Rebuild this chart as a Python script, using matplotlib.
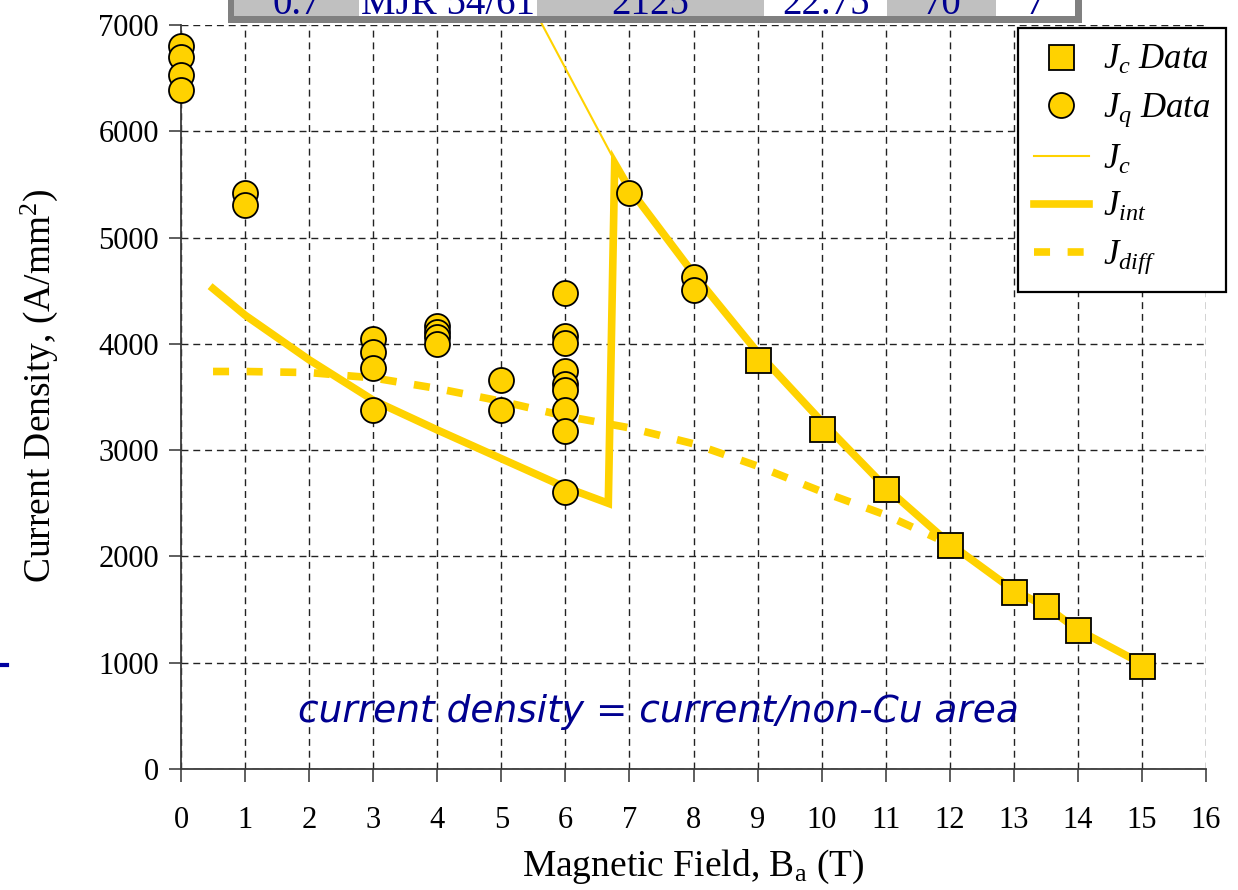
import matplotlib
matplotlib.use('Agg')
from matplotlib import pyplot as plt
from matplotlib import patches
from matplotlib.lines import Line2D

W, H = 1238, 890
GOLD = '#FFD200'
NAVY = '#000090'

# quench current densities (circles)
jq_field = [0, 0, 0, 0, 1, 1, 3, 3, 3, 3, 4, 4, 4, 4, 5, 5,
            6, 6, 6, 6, 6, 6, 6, 6, 6, 7, 8, 8]
jq_density = [6800, 6700, 6530, 6390, 5420, 5310, 4050, 3920, 3770, 3380,
              4170, 4110, 4060, 4000, 3660, 3380,
              4480, 4070, 4010, 3740, 3620, 3570, 3380, 3180, 2610,
              5420, 4630, 4510]

# short sample critical current densities (squares)
jc_field = [9, 10, 11, 12, 13, 13.5, 14, 15]
jc_density = [3850, 3200, 2630, 2110, 1670, 1530, 1310, 970]

# Jc fit line
jc_line_field = [5.35, 7, 8, 9, 10, 11, 12, 13, 13.5, 14, 15]
jc_line_density = [7330, 5460, 4660, 3920, 3270, 2650, 2120, 1680, 1530, 1310, 990]

# integral stability limit
jint_field = [0.5, 1, 2, 3, 4, 5, 6, 6.67, 6.77, 7, 8, 9, 10, 11, 12, 13, 13.5, 14, 15]
jint_density = [4520, 4270, 3850, 3470, 3190, 2920, 2650, 2500, 5700, 5460,
                4660, 3920, 3270, 2650, 2120, 1680, 1530, 1310, 990]

# differential stability limit
jdiff_field = [0.5, 1, 2, 3, 4, 5, 6, 7, 8, 9, 10, 11, 11.8]
jdiff_density = [3740, 3740, 3730, 3680, 3580, 3460, 3320, 3210, 3060, 2850, 2610, 2390, 2170]

# strand table row across the top
table_cells = ['0.7', 'MJR 54/61', '2125', '22.75', '70', '7']
table_edges = [234, 359, 537, 764, 887, 996, 1075]
table_fill = ['#C0C0C0', 'white', '#C0C0C0', 'white', '#C0C0C0', 'white']

plt.rcParams['font.family'] = 'Liberation Serif'
plt.rcParams['mathtext.fontset'] = 'custom'
plt.rcParams['mathtext.rm'] = 'Liberation Serif'
plt.rcParams['mathtext.it'] = 'Liberation Serif:italic'

fig = plt.figure(figsize=(W / 100, H / 100), dpi=100)
ax = fig.add_axes([181 / W, 1 - 769 / H, (1206 - 181) / W, (769 - 25) / H])

ax.set_xlim(0, 16)
ax.set_ylim(0, 7000)
ax.set_xticks(range(17))
ax.set_yticks(range(0, 7001, 1000))
for s in ['top', 'right']:
    ax.spines[s].set_visible(False)
for s in ['left', 'bottom']:
    ax.spines[s].set_color('#3a3a3a')
    ax.spines[s].set_linewidth(1.3)
ax.grid(True, color='#222222', linestyle=(0, (5, 3.5)), linewidth=1.0)
ax.set_axisbelow(True)
ax.tick_params(direction='out', length=9, width=1.1, colors='#333333',
               labelcolor='black', labelsize=22)
ax.tick_params(axis='x', pad=18)
ax.tick_params(axis='y', pad=7)

ax.set_xlabel(r'Magnetic Field, B$_{\mathrm{a}}$ (T)', fontsize=27)
ax.set_ylabel(r'Current Density, (A/mm$^{2}$)', fontsize=27)
ax.xaxis.set_label_coords(0.5, -0.106)
ax.yaxis.set_label_coords(-0.118, 0.515)

l_diff, = ax.plot(jdiff_field, jdiff_density, color=GOLD, lw=5.5,
                  dashes=(2.1, 2.3), dash_capstyle='butt', zorder=3)
l_int, = ax.plot(jint_field, jint_density, color=GOLD, lw=5.5,
                 solid_joinstyle='miter', zorder=4)
l_jc, = ax.plot(jc_line_field, jc_line_density, color=GOLD, lw=1.5,
                zorder=4, clip_on=False)
m_q, = ax.plot(jq_field, jq_density, 'o', ms=18, mfc=GOLD, mec='black',
               mew=1.3, zorder=5, clip_on=False)
m_c, = ax.plot(jc_field, jc_density, 's', ms=18, mfc=GOLD, mec='black',
               mew=1.3, zorder=5)

ax.text(7.45, 540, 'current density = current/non-Cu area', color=NAVY,
        fontsize=27, family='DejaVu Sans', style='italic', ha='center', va='center')

leg = fig.legend([m_c, m_q, l_jc, l_int, l_diff],
                 [r'$J_c$ Data', r'$J_q$ Data', r'$J_c$', r'$J_{int}$', r'$J_{diff}$'],
                 loc='upper left', bbox_to_anchor=(1018 / W, 1 - 28 / H),
                 prop={'size': 25, 'style': 'italic'}, fancybox=False,
                 framealpha=1, edgecolor='black', borderpad=0.45,
                 handlelength=1.6, handletextpad=0.4, labelspacing=0.42,
                 borderaxespad=0)
leg.get_frame().set_linewidth(1.6)

# table strip at the top edge
fig.patches.append(patches.Rectangle((228 / W, 1 - 22.7 / H), (1082 - 228) / W, 30 / H,
                                     transform=fig.transFigure, fc='#808080', ec='none'))
for i, txt in enumerate(table_cells):
    x0, x1 = table_edges[i], table_edges[i + 1]
    fig.patches.append(patches.Rectangle((x0 / W, 1 - 16 / H), (x1 - x0) / W, 20 / H,
                                         transform=fig.transFigure,
                                         fc=table_fill[i], ec='none'))
    fig.text((x0 + x1) / 2 / W, 1 - 14 / H, txt, color=NAVY, fontsize=28,
             ha='center', va='baseline')

# small blue mark on the left edge
fig.lines.append(Line2D([0, 7 / W], [1 - 665 / H, 1 - 665 / H], transform=fig.transFigure,
                        color='#0000A0', lw=3))

fig.savefig('out.png', dpi=100)
